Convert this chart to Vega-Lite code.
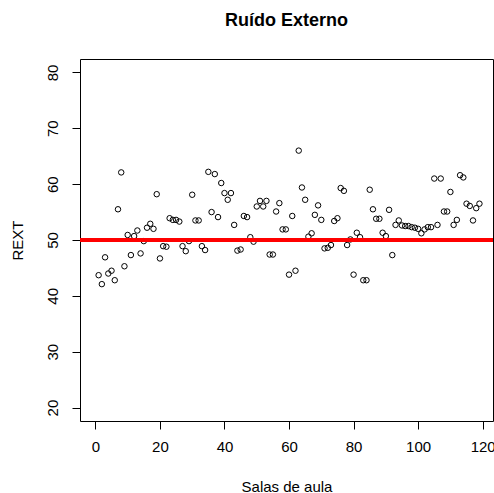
{
  "$schema": "https://vega.github.io/schema/vega-lite/v6.json",
  "autosize": {"type": "none"},
  "padding": {"left": 80, "top": 59, "right": 1, "bottom": 72},
  "width": 413,
  "height": 362,
  "background": "white",
  "config": {
    "font": "Liberation Sans",
    "view": {"stroke": "black", "strokeWidth": 1},
    "axis": {
      "domain": false, "grid": false, "ticks": true, "tickColor": "black", "tickSize": 8, "tickWidth": 1,
      "labelColor": "black", "labelFontSize": 15, "labelFont": "Liberation Sans",
      "titleColor": "black", "titleFontSize": 15, "titleFontWeight": "normal", "titleFont": "Liberation Sans"
    }
  },
  "title": {"text": "Ruído Externo", "fontSize": 18, "fontWeight": "bold", "font": "Liberation Sans", "color": "black", "anchor": "middle", "offset": 29},
  "layer": [
    {
      "data": {"values": [
        {"Sala":1,"REXT":43.7},{"Sala":2,"REXT":42.1},{"Sala":3,"REXT":46.9},{"Sala":4,"REXT":44.0},{"Sala":5,"REXT":44.5},
        {"Sala":6,"REXT":42.8},{"Sala":7,"REXT":55.5},{"Sala":8,"REXT":62.1},{"Sala":9,"REXT":45.3},{"Sala":10,"REXT":50.9},
        {"Sala":11,"REXT":47.3},{"Sala":12,"REXT":50.7},{"Sala":13,"REXT":51.7},{"Sala":14,"REXT":47.6},{"Sala":15,"REXT":49.8},
        {"Sala":16,"REXT":52.2},{"Sala":17,"REXT":52.9},{"Sala":18,"REXT":52.0},{"Sala":19,"REXT":58.2},{"Sala":20,"REXT":46.7},
        {"Sala":21,"REXT":48.9},{"Sala":22,"REXT":48.8},{"Sala":23,"REXT":53.9},{"Sala":24,"REXT":53.6},{"Sala":25,"REXT":53.6},
        {"Sala":26,"REXT":53.3},{"Sala":27,"REXT":48.9},{"Sala":28,"REXT":48.0},{"Sala":29,"REXT":49.8},{"Sala":30,"REXT":58.1},
        {"Sala":31,"REXT":53.5},{"Sala":32,"REXT":53.5},{"Sala":33,"REXT":48.9},{"Sala":34,"REXT":48.2},{"Sala":35,"REXT":62.2},
        {"Sala":36,"REXT":55.0},{"Sala":37,"REXT":61.8},{"Sala":38,"REXT":54.1},{"Sala":39,"REXT":60.2},{"Sala":40,"REXT":58.4},
        {"Sala":41,"REXT":57.2},{"Sala":42,"REXT":58.4},{"Sala":43,"REXT":52.7},{"Sala":44,"REXT":48.1},{"Sala":45,"REXT":48.3},
        {"Sala":46,"REXT":54.3},{"Sala":47,"REXT":54.1},{"Sala":48,"REXT":50.5},{"Sala":49,"REXT":49.7},{"Sala":50,"REXT":56.0},
        {"Sala":51,"REXT":57.0},{"Sala":52,"REXT":56.0},{"Sala":53,"REXT":57.0},{"Sala":54,"REXT":47.4},{"Sala":55,"REXT":47.4},
        {"Sala":56,"REXT":55.1},{"Sala":57,"REXT":56.6},{"Sala":58,"REXT":51.9},{"Sala":59,"REXT":51.9},{"Sala":60,"REXT":43.8},
        {"Sala":61,"REXT":54.3},{"Sala":62,"REXT":44.5},{"Sala":63,"REXT":66.0},{"Sala":64,"REXT":59.4},{"Sala":65,"REXT":57.2},
        {"Sala":66,"REXT":50.6},{"Sala":67,"REXT":51.2},{"Sala":68,"REXT":54.5},{"Sala":69,"REXT":56.2},{"Sala":70,"REXT":53.6},
        {"Sala":71,"REXT":48.5},{"Sala":72,"REXT":48.6},{"Sala":73,"REXT":49.1},{"Sala":74,"REXT":53.4},{"Sala":75,"REXT":53.9},
        {"Sala":76,"REXT":59.3},{"Sala":77,"REXT":58.8},{"Sala":78,"REXT":49.1},{"Sala":79,"REXT":50.1},{"Sala":80,"REXT":43.8},
        {"Sala":81,"REXT":51.3},{"Sala":82,"REXT":50.5},{"Sala":83,"REXT":42.8},{"Sala":84,"REXT":42.8},{"Sala":85,"REXT":59.0},
        {"Sala":86,"REXT":55.5},{"Sala":87,"REXT":53.8},{"Sala":88,"REXT":53.8},{"Sala":89,"REXT":51.3},{"Sala":90,"REXT":50.7},
        {"Sala":91,"REXT":55.4},{"Sala":92,"REXT":47.3},{"Sala":93,"REXT":52.7},{"Sala":94,"REXT":53.5},{"Sala":95,"REXT":52.6},
        {"Sala":96,"REXT":52.5},{"Sala":97,"REXT":52.5},{"Sala":98,"REXT":52.3},{"Sala":99,"REXT":52.2},{"Sala":100,"REXT":52.0},
        {"Sala":101,"REXT":51.2},{"Sala":102,"REXT":51.9},{"Sala":103,"REXT":52.3},{"Sala":104,"REXT":52.3},{"Sala":105,"REXT":61.0},
        {"Sala":106,"REXT":52.7},{"Sala":107,"REXT":61.0},{"Sala":108,"REXT":55.1},{"Sala":109,"REXT":55.1},{"Sala":110,"REXT":58.6},
        {"Sala":111,"REXT":52.7},{"Sala":112,"REXT":53.6},{"Sala":113,"REXT":61.6},{"Sala":114,"REXT":61.2},{"Sala":115,"REXT":56.5},
        {"Sala":116,"REXT":56.1},{"Sala":117,"REXT":53.5},{"Sala":118,"REXT":55.7},{"Sala":119,"REXT":56.5}
      ]},
      "mark": {"type": "point", "shape": "circle", "filled": false, "stroke": "black", "strokeWidth": 1, "size": 30, "opacity": 1},
      "encoding": {
        "x": {"field": "Sala", "type": "quantitative",
              "scale": {"domain": [-4.77, 123.2], "nice": false, "zero": false},
              "axis": {"values": [0, 20, 40, 60, 80, 100, 120], "labelPadding": 10, "labelBaseline": "top",
                       "title": "Salas de aula", "titleX": 206.5, "titleY": 65, "titleBaseline": "middle", "titleAlign": "center"}},
        "y": {"field": "REXT", "type": "quantitative",
              "scale": {"domain": [17.6, 82.4], "nice": false, "zero": false},
              "axis": {"values": [20, 30, 40, 50, 60, 70, 80], "labelAngle": -90, "labelAlign": "center", "labelBaseline": "bottom", "labelPadding": 12,
                       "title": "REXT", "titleAngle": -90, "titleX": -63, "titleY": 181, "titleBaseline": "middle", "titleAlign": "center"}}
      }
    },
    {
      "data": {"values": [{"REXT": 50}]},
      "mark": {"type": "rule", "color": "#FF0000", "strokeWidth": 4},
      "encoding": {"y": {"field": "REXT", "type": "quantitative"}}
    }
  ]
}
